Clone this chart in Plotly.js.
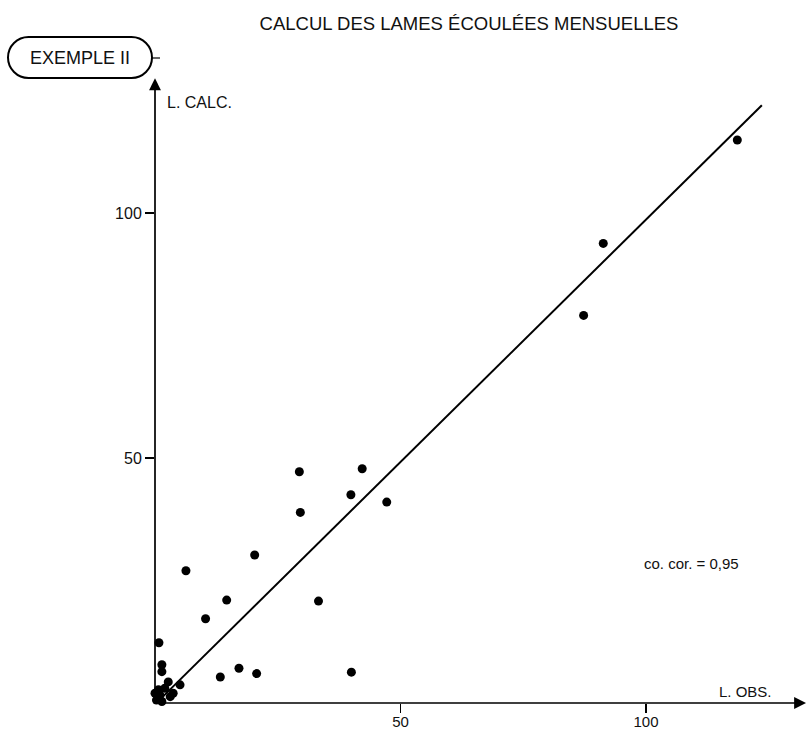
<!DOCTYPE html>
<html>
<head>
<meta charset="utf-8">
<script src="https://cdn.plot.ly/plotly-3.0.1.min.js"></script>
<style>html,body{margin:0;padding:0;background:#fff;}#chart{width:808px;height:730px;}</style>
</head>
<body>
<div id="chart"></div>
<script>
// Observed (L. OBS.) vs calculated (L. CALC.) monthly runoff depths
const obsValues  = [118.6, 91.3, 87.3, 47.2, 42.2, 39.9, 29.4, 29.6, 20.3, 6.3, 14.6, 33.3, 10.3, 0.8, 17.1, 20.7, 13.3, 40.0, 1.4, 1.4, 2.7, 5.1, 0.7, 0.0, 1.0, 3.7, 3.1, 0.3, 1.4, 2.0];
const calcValues = [114.9, 93.8, 79.1, 41.0, 47.8, 42.5, 47.2, 38.9, 30.2, 27.0, 21.0, 20.8, 17.2, 12.3, 7.1, 6.0, 5.3, 6.3, 7.8, 6.4, 4.3, 3.7, 2.7, 2.0, 1.6, 2.0, 1.3, 0.6, 0.3, 3.0];
// fitted line ends
const lineX = [1.5, 123.6];
const lineY = [1.2, 122.0];
// ticks
const xTickVals = [50, 100];
const xTickText = ['50', '100'];
const yTickVals = [50, 100];
const yTickText = ['50', '100'];

const FONT = 'Liberation Sans, Arial, Helvetica, sans-serif';
const W = 808, H = 730;
const M = {l: 155, r: 0, t: 66, b: 27};
const PW = W - M.l - M.r, PH = H - M.t - M.b;
function px(X) { return ((X - M.l) / PW).toFixed(5); }
function py(Y) { return ((H - M.b - Y) / PH).toFixed(5); }

// rounded "stadium" frame for EXEMPLE II (pixel geometry converted to paper coords)
function stadium(L, R, T, B) {
  const r = (B - T) / 2, k = 0.5523 * r;
  const cy = (T + B) / 2;
  return 'M' + px(L + r) + ',' + py(T) +
    ' L' + px(R - r) + ',' + py(T) +
    ' C' + px(R - r + k) + ',' + py(T) + ' ' + px(R) + ',' + py(cy - k) + ' ' + px(R) + ',' + py(cy) +
    ' C' + px(R) + ',' + py(cy + k) + ' ' + px(R - r + k) + ',' + py(B) + ' ' + px(R - r) + ',' + py(B) +
    ' L' + px(L + r) + ',' + py(B) +
    ' C' + px(L + r - k) + ',' + py(B) + ' ' + px(L) + ',' + py(cy + k) + ' ' + px(L) + ',' + py(cy) +
    ' C' + px(L) + ',' + py(cy - k) + ' ' + px(L + r - k) + ',' + py(T) + ' ' + px(L + r) + ',' + py(T) + ' Z';
}

const traces = [
  {x: lineX, y: lineY, mode: 'lines', line: {color: '#000', width: 2}, hoverinfo: 'skip', showlegend: false, cliponaxis: false},
  {x: obsValues, y: calcValues, mode: 'markers', marker: {color: '#000', size: 9}, showlegend: false, cliponaxis: false}
];

const layout = {
  width: W, height: H,
  margin: M,
  paper_bgcolor: '#fff', plot_bgcolor: 'rgba(0,0,0,0)',
  font: {family: FONT, color: '#111', size: 16},
  title: {text: 'CALCUL DES LAMES ÉCOULÉES MENSUELLES', font: {family: FONT, size: 18.5, color: '#111'},
          xref: 'container', yref: 'container', x: 469 / W, xanchor: 'center', y: 1 - 24 / H, yanchor: 'middle'},
  xaxis: {range: [0, 133], showgrid: false, zeroline: false, showline: false,
          ticks: 'outside', ticklen: 9, tickwidth: 1.5, tickcolor: '#000', ticklabelstandoff: -4,
          tickvals: xTickVals, ticktext: xTickText, tickfont: {family: FONT, size: 15, color: '#111'}, fixedrange: true},
  yaxis: {range: [0, 130], showgrid: false, zeroline: false, showline: false,
          ticks: 'outside', ticklen: 9, tickwidth: 1.5, tickcolor: '#000',
          tickvals: yTickVals, ticktext: yTickText, tickfont: {family: FONT, size: 16, color: '#111'}, fixedrange: true},
  shapes: [
    {type: 'path', xref: 'paper', yref: 'paper', path: stadium(8, 152, 37, 78), line: {color: '#000', width: 2}},
    {type: 'line', xref: 'paper', yref: 'paper', x0: px(152), x1: px(160), y0: py(58), y1: py(58), line: {color: '#000', width: 1.2}}
  ],
  annotations: [
    {x: 132.6, y: 0, ax: 0, ay: 0, xref: 'x', yref: 'y', axref: 'x', ayref: 'y', text: '', showarrow: true,
     arrowhead: 2, arrowsize: 1.4, arrowwidth: 1.7, arrowcolor: '#000', standoff: 0, startstandoff: 0},
    {x: 0, y: 127.5, ax: 0, ay: 0, xref: 'x', yref: 'y', axref: 'x', ayref: 'y', text: '', showarrow: true,
     arrowhead: 2, arrowsize: 1.4, arrowwidth: 1.7, arrowcolor: '#000', standoff: 0, startstandoff: 0},
    {xref: 'paper', yref: 'paper', x: px(80), y: py(58), text: 'EXEMPLE II', showarrow: false,
     xanchor: 'center', yanchor: 'middle', font: {family: FONT, size: 18, color: '#111'}},
    {xref: 'paper', yref: 'paper', x: px(165), y: py(103), text: 'L. CALC.', showarrow: false,
     xanchor: 'left', yanchor: 'middle', font: {family: FONT, size: 16, color: '#111'}},
    {xref: 'paper', yref: 'paper', x: px(746), y: py(692), text: 'L. OBS.', showarrow: false,
     xanchor: 'center', yanchor: 'middle', font: {family: FONT, size: 15, color: '#111'}},
    {xref: 'paper', yref: 'paper', x: px(691), y: py(563), text: 'co. cor. = 0,95', showarrow: false,
     xanchor: 'center', yanchor: 'middle', font: {family: FONT, size: 15, color: '#111'}}
  ]
};

Plotly.newPlot('chart', traces, layout, {staticPlot: true, displayModeBar: false});
</script>
</body>
</html>
